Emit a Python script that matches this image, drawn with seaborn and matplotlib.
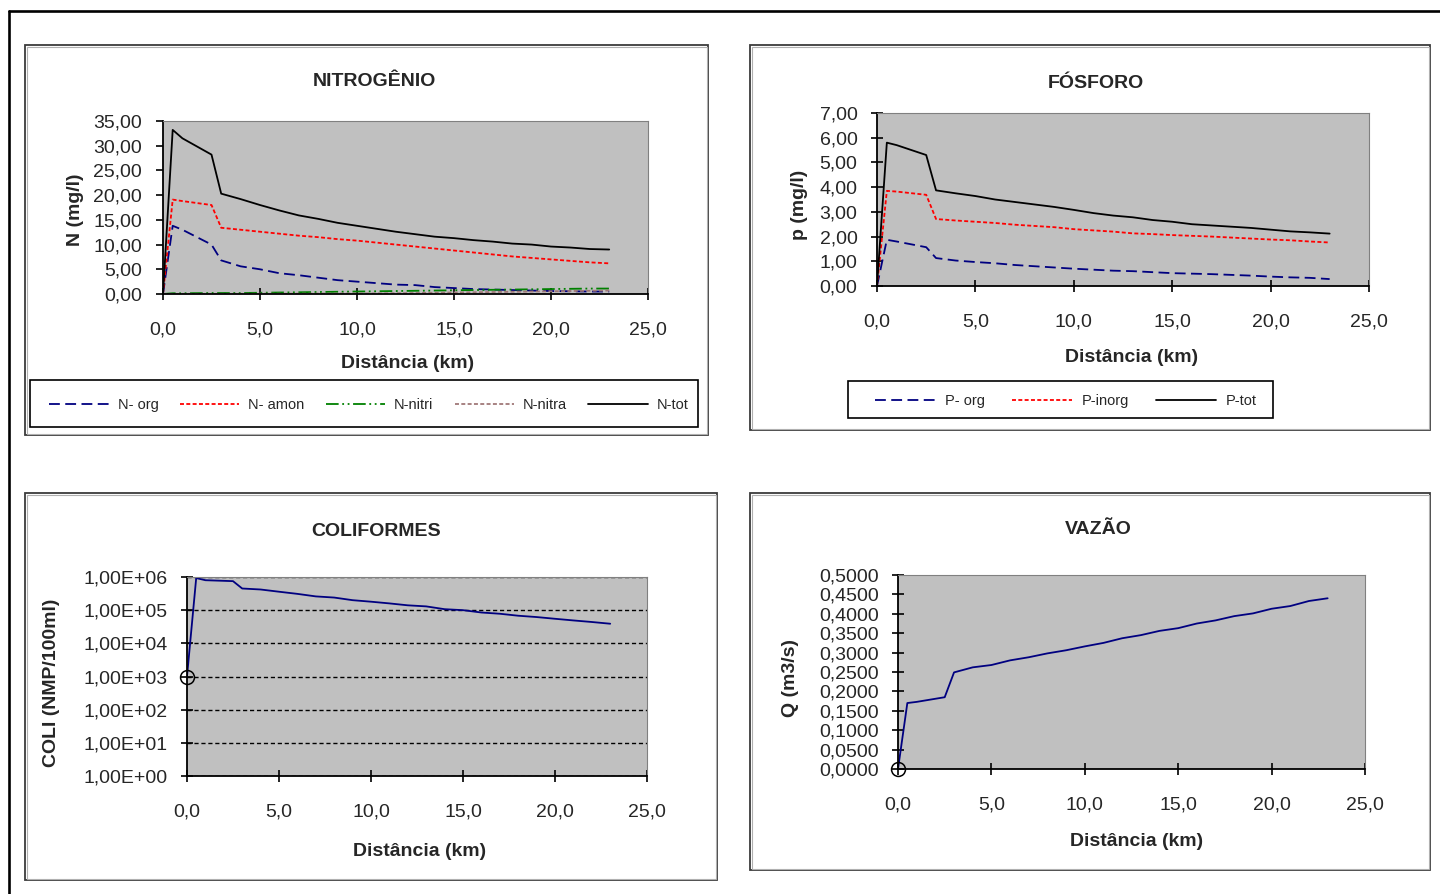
import matplotlib
matplotlib.use("Agg")
import matplotlib.pyplot as plt
from matplotlib.patches import Rectangle
from matplotlib.lines import Line2D
from matplotlib.ticker import FuncFormatter, MultipleLocator, LogLocator, NullLocator
import seaborn as sns
import numpy as np

# ---------------- data ----------------
dist_km = [0, 0.5, 1.0, 2.5, 3.0, 4, 5, 6, 7, 8, 9, 10, 11, 12, 13, 14, 15, 16, 17, 18, 19, 20, 21, 22, 23]

n_org = [0, 13.8, 13.0, 10.0, 6.8, 5.6, 5.0, 4.2, 3.8, 3.3, 2.8, 2.5, 2.2, 1.9, 1.8, 1.4, 1.2, 1.0, 0.9, 0.8, 0.7, 0.6, 0.55, 0.5, 0.5]
n_amon = [0, 19.1, 18.8, 18.0, 13.4, 13.0, 12.6, 12.2, 11.8, 11.5, 11.1, 10.8, 10.4, 10.0, 9.6, 9.2, 8.8, 8.4, 8.0, 7.6, 7.3, 7.0, 6.7, 6.4, 6.2]
n_nitri = [0, 0.15, 0.15, 0.2, 0.2, 0.2, 0.25, 0.3, 0.35, 0.4, 0.45, 0.5, 0.55, 0.6, 0.65, 0.7, 0.75, 0.8, 0.85, 0.9, 0.95, 1.0, 1.05, 1.1, 1.1]
n_nitra = [0, 0.02, 0.02, 0.03, 0.03, 0.04, 0.05, 0.06, 0.07, 0.08, 0.09, 0.1, 0.12, 0.15, 0.2, 0.25, 0.3, 0.35, 0.4, 0.45, 0.5, 0.55, 0.6, 0.65, 0.7]
n_tot = [0, 33.2, 31.5, 28.2, 20.3, 19.2, 18.0, 16.9, 15.9, 15.2, 14.4, 13.8, 13.2, 12.6, 12.1, 11.6, 11.3, 10.9, 10.6, 10.2, 10.0, 9.6, 9.4, 9.1, 9.0]

p_org = [0, 1.87, 1.80, 1.57, 1.13, 1.03, 0.97, 0.92, 0.85, 0.80, 0.75, 0.70, 0.66, 0.62, 0.60, 0.56, 0.52, 0.50, 0.48, 0.45, 0.42, 0.38, 0.35, 0.33, 0.28]
p_inorg = [0, 3.85, 3.82, 3.69, 2.71, 2.65, 2.60, 2.55, 2.48, 2.43, 2.38, 2.30, 2.25, 2.20, 2.13, 2.10, 2.06, 2.03, 2.00, 1.96, 1.92, 1.88, 1.85, 1.80, 1.76]
p_tot = [0, 5.80, 5.70, 5.30, 3.87, 3.75, 3.64, 3.50, 3.40, 3.30, 3.20, 3.08, 2.95, 2.85, 2.78, 2.67, 2.60, 2.50, 2.45, 2.40, 2.35, 2.28, 2.21, 2.17, 2.12]

coli = [1.0e3, 9.3e5, 8.0e5, 7.5e5, 4.5e5, 4.2e5, 3.6e5, 3.1e5, 2.6e5, 2.4e5, 2.0e5, 1.8e5, 1.6e5, 1.4e5, 1.3e5, 1.07e5, 1.0e5, 8.5e4, 7.8e4, 6.8e4, 6.2e4, 5.5e4, 4.9e4, 4.4e4, 3.9e4]

vazao = [0, 0.170, 0.173, 0.185, 0.249, 0.262, 0.268, 0.280, 0.288, 0.298, 0.306, 0.316, 0.325, 0.337, 0.345, 0.356, 0.363, 0.375, 0.383, 0.394, 0.401, 0.413, 0.420, 0.433, 0.440]

n_labels = ["N- org", "N- amon", "N-nitri", "N-nitra", "N-tot"]
p_labels = ["P- org", "P-inorg", "P-tot"]
titles = ["NITROGÊNIO", "FÓSFORO", "COLIFORMES", "VAZÃO"]
ylabels = ["N (mg/l)", "p (mg/l)", "COLI (NMP/100ml)", "Q (m3/s)"]
xlabel = "Distância (km)"

# ---------------- style ----------------
sns.set_theme(style="white")
plt.rcParams["font.family"] = ["Liberation Sans", "DejaVu Sans"]
plt.rcParams["axes.unicode_minus"] = False

W, H = 1440, 894
fig = plt.figure(figsize=(W / 100, H / 100), dpi=100)


def fx(px):
    return px / W


def fy(py):
    return 1 - py / H


def axes_px(l, t, r, b):
    return fig.add_axes([fx(l), fy(b), (r - l) / W, (b - t) / H])


FS = 14
NAVY = "#000080"
GRAY_BG = "#c0c0c0"

# outer frame lines
fig.add_artist(Line2D([fx(9), 1.0], [fy(11), fy(11)], color="black", lw=1.9, transform=fig.transFigure))
fig.add_artist(Line2D([fx(9), fx(9)], [fy(11), 0.0], color="black", lw=1.9, transform=fig.transFigure))

# chart boxes
for (l, t, r, b) in [(25, 45, 708, 435), (750, 45, 1430, 430), (25, 493, 717, 880), (750, 493, 1430, 870)]:
    fig.add_artist(Rectangle((fx(l), fy(b)), (r - l) / W, (b - t) / H, fill=False,
                             edgecolor="#3c3c3c", lw=1.3, transform=fig.transFigure))
    fig.add_artist(Rectangle((fx(l + 1.5), fy(b - 1.5)), (r - l - 3) / W, (b - t - 3) / H, fill=False,
                             edgecolor="#b0b0b0", lw=0.8, transform=fig.transFigure))

# legend frames
for (l, t, r, b) in [(30, 380, 698, 427), (848, 381, 1273, 418)]:
    fig.add_artist(Rectangle((fx(l), fy(b)), (r - l) / W, (b - t) / H, fill=False,
                             edgecolor="black", lw=1.2, transform=fig.transFigure))


def comma_fmt(dec):
    return FuncFormatter(lambda v, p: f"{v:.{dec}f}".replace(".", ","))


def style_axes(ax, ytick_dir="inout"):
    ax.set_facecolor(GRAY_BG)
    for s in ["top", "right"]:
        ax.spines[s].set_color("#808080")
        ax.spines[s].set_linewidth(0.8)
    for s in ["left", "bottom"]:
        ax.spines[s].set_color("black")
        ax.spines[s].set_linewidth(1.3)
    ax.set_xlim(0, 25)
    ax.xaxis.set_major_locator(MultipleLocator(5))
    ax.xaxis.set_major_formatter(comma_fmt(1))
    ax.tick_params(axis="x", direction="inout", length=8, width=1.2, color="black",
                   labelsize=FS, pad=15.5, bottom=True)
    if ytick_dir == "out":
        ax.tick_params(axis="y", direction="out", length=5, width=1.2, color="black",
                       labelsize=FS, pad=10, left=True)
    else:
        ax.tick_params(axis="y", direction="inout", length=8, width=1.2, color="black",
                       labelsize=FS, pad=10, left=True)
    ax.grid(False)


def add_labels(ax, title, tpos, ylab, ypos, xpos):
    fig.text(fx(tpos[0]), fy(tpos[1] + 3), title, ha="center", va="center", fontsize=FS, weight="bold")
    ax.set_xlabel(xlabel, fontsize=FS, weight="bold")
    ax.xaxis.set_label_coords(fx(xpos[0]), fy(xpos[1] + 2), transform=fig.transFigure)
    ax.xaxis.label.set_va("center")
    ax.set_ylabel(ylab, fontsize=FS, weight="bold")
    ax.yaxis.set_label_coords(fx(ypos[0]), fy(ypos[1]), transform=fig.transFigure)
    ax.yaxis.label.set_va("center")


# ---------------- NITROGÊNIO ----------------
axN = axes_px(163, 121, 648, 294)
n_series = [n_org, n_amon, n_nitri, n_nitra, n_tot]
n_colors = [NAVY, "#ff0000", "#008000", "#a07878", "black"]
n_dashes = [(0, (6, 3)), (0, (2.2, 1.3)), (0, (7, 2, 1, 2, 1, 2)), (0, (2.2, 1.3)), "-"]
n_handles = []
for vals, c, d, lab in zip(n_series, n_colors, n_dashes, n_labels):
    sns.lineplot(x=dist_km, y=vals, ax=axN, color=c, linestyle=d, lw=1.3, label=lab, legend=False)
    n_handles.append(Line2D([], [], color=c, linestyle=d, lw=1.3))
axN.set_ylim(0, 35)
axN.yaxis.set_major_locator(MultipleLocator(5))
axN.yaxis.set_major_formatter(comma_fmt(2))
style_axes(axN, ytick_dir="out")
add_labels(axN, titles[0], (374, 78), ylabels[0], (75, 210), (408, 361))
legN = fig.legend(n_handles, n_labels, loc="center", bbox_to_anchor=(fx(369), fy(405)),
                  ncol=5, fontsize=10.5, frameon=False, handlelength=4.1,
                  handletextpad=0.6, columnspacing=1.45, borderpad=0.2, borderaxespad=0)

# ---------------- FÓSFORO ----------------
axP = axes_px(877, 113, 1369, 286)
p_series = [p_org, p_inorg, p_tot]
p_colors = [NAVY, "#ff0000", "black"]
p_dashes = [(0, (6, 3)), (0, (2.2, 1.3)), "-"]
p_handles = []
for vals, c, d, lab in zip(p_series, p_colors, p_dashes, p_labels):
    sns.lineplot(x=dist_km, y=vals, ax=axP, color=c, linestyle=d, lw=1.3, label=lab, legend=False)
    p_handles.append(Line2D([], [], color=c, linestyle=d, lw=1.3))
axP.set_ylim(0, 7)
axP.yaxis.set_major_locator(MultipleLocator(1))
axP.yaxis.set_major_formatter(comma_fmt(2))
style_axes(axP)
add_labels(axP, titles[1], (1096, 80), ylabels[1], (800, 205), (1132, 355))
legP = fig.legend(p_handles, p_labels, loc="center", bbox_to_anchor=(fx(1066), fy(401)),
                  ncol=3, fontsize=10.5, frameon=False, handlelength=4.1,
                  handletextpad=0.7, columnspacing=1.85, borderpad=0.2, borderaxespad=0)

# ---------------- COLIFORMES ----------------
axC = axes_px(187, 577, 647, 776)
sns.lineplot(x=dist_km, y=coli, ax=axC, color=NAVY, lw=1.3)
axC.plot(dist_km[:1], coli[:1], marker="o", ms=10, mfc="none", mec="black", mew=1.1,
         linestyle="none", clip_on=False, zorder=5)
axC.set_yscale("log")
axC.set_ylim(1, 1e6)
axC.yaxis.set_major_locator(LogLocator(base=10, numticks=10))
axC.yaxis.set_minor_locator(NullLocator())
axC.yaxis.set_major_formatter(FuncFormatter(lambda v, p: f"{v:.2E}".replace(".", ",")))
style_axes(axC)
axC.yaxis.grid(True, which="major", color="black", linestyle=(0, (3, 2)), lw=1.0)
axC.set_axisbelow(True)
add_labels(axC, titles[2], (376, 528), ylabels[2], (52, 683), (420, 849))

# ---------------- VAZÃO ----------------
axV = axes_px(898, 575, 1365, 769)
sns.lineplot(x=dist_km, y=vazao, ax=axV, color=NAVY, lw=1.3)
axV.plot(dist_km[:1], vazao[:1], marker="o", ms=10, mfc="none", mec="black", mew=1.1,
         linestyle="none", clip_on=False, zorder=5)
axV.set_ylim(0, 0.5)
axV.yaxis.set_major_locator(MultipleLocator(0.05))
axV.yaxis.set_major_formatter(comma_fmt(4))
style_axes(axV)
add_labels(axV, titles[3], (1098, 527), ylabels[3], (790, 678), (1137, 840))

fig.savefig("out.png", dpi=100)
